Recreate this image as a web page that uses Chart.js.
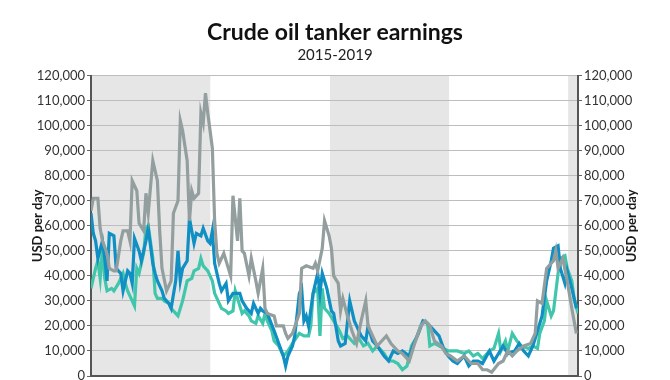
<!DOCTYPE html>
<html>
<head>
<meta charset="utf-8">
<script src="https://cdn.jsdelivr.net/npm/chart.js@4"></script>
<style>
html,body{margin:0;padding:0;background:#fff;overflow:hidden;width:670px;height:380px;}
canvas{display:block;}
</style>
</head>
<body>
<canvas id="c" width="670" height="400"></canvas>
<script>
// Week index since start of 2015 (x position), values in USD per day
const grayWeeks  = [0,1,3,4,5,7,8,10,11,13,14,16,17,18,20,21,23,24,25,27,29,30,31,33,35,36,38,39,40,42,43,44,45,47,48,49,50,51,53,54,55,56,58,59,61,62,64,65,66,67,69,70,72,73,75,76,77,80,81,84,85,86,88,91,92,94,97,98,99,101,102,104,105,106,108,109,110,112,114,116,118,120,121,123,125,129,131,134,136,139,141,144,146,148,150,153,155,157,160,163,166,169,171,173,175,178,180,182,184,186,189,192,194,195,197,199,202,203,204,206,208,210,212];
const grayValues = [66000,71000,71000,59000,54000,49000,43000,42000,42000,54000,58000,58000,54000,78000,74000,61000,58000,73000,65000,86000,78000,58000,43000,34000,38000,65000,70000,102000,98000,86000,62000,74000,71000,73000,105000,101000,113000,105000,91000,62000,49000,45000,49000,46000,40000,72000,54000,71000,50000,49000,40000,47000,38000,33000,43000,27000,25000,24000,20000,20000,17000,15000,17000,25000,43000,44000,43000,45000,42000,51000,62000,56000,51000,40000,37000,26000,31000,24000,18000,13000,22000,30000,20000,16000,12000,16000,13000,10000,9000,6000,12000,20000,22000,20000,14000,12000,9000,8000,6000,8000,5000,5000,2500,2500,1500,5000,6000,10000,8000,10000,12000,13000,17000,30000,29000,43000,46000,50000,43000,47000,38000,27000,17000];

const blueWeeks  = [0,1,2,3,5,6,7,8,10,11,13,14,16,17,18,19,21,22,24,25,27,28,29,31,32,34,35,37,38,39,40,42,43,45,46,48,49,51,52,53,54,56,57,59,60,62,63,65,66,68,70,71,73,74,75,77,80,82,84,85,86,88,89,91,92,93,94,95,97,99,100,101,103,105,106,108,109,111,113,115,116,118,120,121,123,125,128,130,132,134,136,139,141,143,145,147,150,152,154,156,158,160,163,165,167,169,171,174,176,178,180,182,185,187,189,191,193,195,197,199,201,202,204,205,207,208,210,212];
const blueValues = [65000,57000,54000,47000,54000,47000,38000,57000,56000,43000,41000,34000,42000,41000,37000,55000,50000,46000,54000,59000,45000,41000,38000,34000,31000,29000,27000,38000,50000,38000,43000,46000,63000,53000,57000,56000,59000,54000,53000,58000,45000,37000,34000,37000,30000,33000,33000,33000,30000,27000,25000,29000,25000,27000,26000,25000,18000,13000,8000,4000,8000,12000,16000,33000,35000,22000,24000,20000,33000,41000,33000,41000,35000,26000,25000,14000,12000,13000,30000,22000,20000,16000,14000,20000,14000,12000,8000,6000,10000,9000,10000,8000,13000,17000,22000,21000,18000,16000,11000,8000,6000,5000,8000,4000,6000,6000,5000,10000,6000,9000,12000,9000,10000,13000,10000,8000,12000,18000,24000,38000,46000,51000,52000,43000,37000,42000,35000,27000];

const tealWeeks  = [0,2,3,4,5,6,7,9,10,12,14,15,16,18,19,20,21,23,24,25,27,28,29,31,32,34,35,37,38,40,41,42,44,45,47,48,49,51,53,54,56,57,59,60,62,63,64,66,67,69,70,72,73,75,76,77,79,80,82,84,86,88,91,93,95,96,97,99,100,101,102,104,106,108,110,112,115,117,119,121,123,125,128,130,132,134,136,138,140,142,144,145,147,148,150,152,154,156,158,160,163,165,167,169,171,174,176,178,179,181,182,184,186,188,191,193,195,196,198,199,201,202,204,205,207,208,210,211,212.7];
const tealValues = [35000,43000,46000,39000,51000,39000,34000,35000,34000,37000,41000,37000,34000,30000,28000,43000,41000,49000,59000,60000,47000,33000,31000,31000,30000,29000,27000,25000,24000,30000,34000,38000,39000,42000,43000,47000,44000,42000,38000,33000,29000,27000,26000,25000,26000,34000,31000,25000,26000,24000,22000,21000,24000,21000,25000,22000,18000,14000,12000,8000,10000,13000,17000,16000,16000,20000,33000,35000,16000,35000,27000,25000,22000,19000,15000,16000,13000,15000,12000,13000,10000,12000,9000,6000,6000,5000,2500,4000,12000,15000,20000,22000,21000,12000,13000,12000,11000,10000,10000,10000,9000,10000,8000,9000,7000,10000,11000,17000,10000,14000,10000,17000,14000,12000,11000,12000,11000,17000,22000,30000,24000,26000,41000,47000,48000,43000,38000,31000,25000];

const yearStarts = [0, 52.1, 104.4, 156.4, 208.4];
const shadedYears = [0, 2, 4];
const yTicks = [0,10000,20000,30000,40000,50000,60000,70000,80000,90000,100000,110000,120000];

function pts(ws, vs){ return ws.map((w,i)=>({x:w, y:vs[i]})); }

const X_MAX = 212.7;

const bandPlugin = {
  id:'bands',
  beforeDraw(chart){
    const {ctx, chartArea:a, scales:{x}} = chart;
    ctx.save();
    ctx.fillStyle = '#e6e6e6';
    shadedYears.forEach(i=>{
      const s = yearStarts[i];
      const e = i+1 < yearStarts.length ? yearStarts[i+1] : X_MAX;
      const x0 = x.getPixelForValue(s), x1 = x.getPixelForValue(Math.min(e, X_MAX));
      ctx.fillRect(x0, a.top, x1-x0, a.bottom-a.top);
    });
    ctx.restore();
  }
};

const axisTitlePlugin = {
  id:'axisTitles',
  afterDraw(chart){
    const {ctx, chartArea:a} = chart;
    const cy = (a.top + a.bottom)/2;
    ctx.save();
    ctx.font = 'bold 13px Lato';
    ctx.fillStyle = '#1a1a1a';
    ctx.textAlign = 'center';
    ctx.textBaseline = 'middle';
    [38, 632].forEach(cx=>{
      ctx.save();
      ctx.translate(cx, cy);
      ctx.rotate(-Math.PI/2);
      ctx.fillText('USD per day', 0, 0);
      ctx.restore();
    });
    ctx.restore();
  }
};

const tickFmt = v => v.toLocaleString('en-US');

new Chart(document.getElementById('c'), {
  type:'line',
  data:{
    datasets:[
      {label:'Gray', data:pts(grayWeeks, grayValues), borderColor:'#939e9e', borderWidth:3.2, pointRadius:0, tension:0, yAxisID:'y'},
      {label:'Blue', data:pts(blueWeeks, blueValues), borderColor:'#0f8fc3', borderWidth:3.2, pointRadius:0, tension:0, yAxisID:'y'},
      {label:'Teal', data:pts(tealWeeks, tealValues), borderColor:'#3fc6ab', borderWidth:3.2, pointRadius:0, tension:0, yAxisID:'y'}
    ]
  },
  options:{
    responsive:false,
    animation:false,
    layout:{padding:0},
    plugins:{
      legend:{display:false},
      tooltip:{enabled:false},
      title:{display:true, text:'Crude oil tanker earnings', color:'#111', font:{family:'Lato', size:23, weight:'bold'}, padding:{top:19, bottom:0}},
      subtitle:{display:true, text:'2015-2019', color:'#222', font:{family:'Lato', size:15}, padding:{top:0, bottom:11}}
    },
    scales:{
      x:{type:'linear', min:0, max:X_MAX, position:'bottom',
        ticks:{display:false}, grid:{display:false, drawTicks:false},
        border:{display:true, color:'#555', width:2},
        afterFit(s){ s.height = 24; }
      },
      y:{type:'linear', position:'left', min:0, max:120000,
        afterBuildTicks(s){ s.ticks = yTicks.map(v=>({value:v})); },
        ticks:{callback:tickFmt, color:'#333', font:{family:'Lato', size:13}, padding:2},
        grid:{color:'#bdbdbd', borderDash:[2,3], lineWidth:1, tickLength:4, tickColor:'#666', tickWidth:1, tickBorderDash:[]},
        border:{display:true, color:'#555', width:2},
        afterFit(s){ s.width = 91; }
      },
      y2:{type:'linear', position:'right', min:0, max:120000,
        afterBuildTicks(s){ s.ticks = yTicks.map(v=>({value:v})); },
        ticks:{callback:tickFmt, color:'#333', font:{family:'Lato', size:13}, padding:2},
        grid:{drawOnChartArea:false, tickLength:4, tickColor:'#666', tickWidth:1},
        border:{display:true, color:'#555', width:2},
        afterFit(s){ s.width = 92; }
      }
    }
  },
  plugins:[bandPlugin, axisTitlePlugin]
});
</script>
</body>
</html>
